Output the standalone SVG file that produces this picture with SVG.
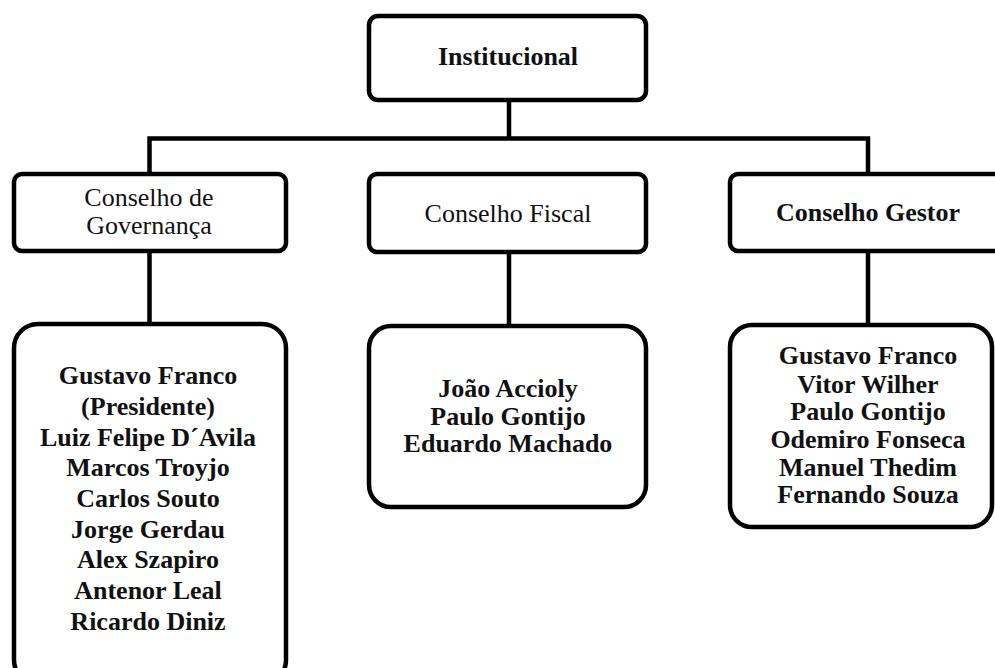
<svg xmlns="http://www.w3.org/2000/svg" width="995" height="668" viewBox="0 0 995 668">
<style>
.box{fill:#fff;stroke:#000;stroke-width:4.5}
.ln{fill:none;stroke:#000;stroke-width:4.5}
text{font-family:"Liberation Serif","Times New Roman",serif;font-size:26px;fill:#111;text-anchor:middle}
.b{font-weight:bold}
</style>
<rect width="995" height="668" fill="#fff"/>
<g id="connectors">
<path class="ln" d="M509 100V138.5M149.5 174V138.5H868V174M149.5 252V324M509 253V326M868 252V325"/>
</g>
<g id="institucional">
<rect class="box" x="369" y="16" width="277" height="84" rx="9"/>
<text class="b" x="508" y="65">Institucional</text>
</g>
<g id="governanca">
<rect class="box" x="14" y="174" width="272" height="77" rx="8"/>
<text x="149" y="206">Conselho de</text>
<text x="149" y="234">Governança</text>
</g>
<g id="fiscal">
<rect class="box" x="369" y="174" width="277" height="78" rx="8"/>
<text x="508" y="222">Conselho Fiscal</text>
</g>
<g id="gestor">
<rect class="box" x="730" y="174" width="280" height="77" rx="8"/>
<text class="b" x="868" y="221">Conselho Gestor</text>
</g>
<g id="governanca-membros">
<rect class="box" x="14" y="324" width="272" height="360" rx="24"/>
<text class="b" x="148" y="384">Gustavo Franco</text>
<text class="b" x="148" y="415">(Presidente)</text>
<text class="b" x="148" y="446">Luiz Felipe D´Avila</text>
<text class="b" x="148" y="476">Marcos Troyjo</text>
<text class="b" x="148" y="507">Carlos Souto</text>
<text class="b" x="148" y="538">Jorge Gerdau</text>
<text class="b" x="148" y="568">Alex Szapiro</text>
<text class="b" x="148" y="599">Antenor Leal</text>
<text class="b" x="148" y="630">Ricardo Diniz</text>
</g>
<g id="fiscal-membros">
<rect class="box" x="369" y="326" width="277" height="181" rx="22"/>
<text class="b" x="508" y="397">João Accioly</text>
<text class="b" x="508" y="425">Paulo Gontijo</text>
<text class="b" x="508" y="452">Eduardo Machado</text>
</g>
<g id="gestor-membros">
<rect class="box" x="730" y="325" width="262" height="202" rx="22"/>
<text class="b" x="868" y="364">Gustavo Franco</text>
<text class="b" x="868" y="393">Vitor Wilher</text>
<text class="b" x="868" y="420">Paulo Gontijo</text>
<text class="b" x="868" y="448">Odemiro Fonseca</text>
<text class="b" x="868" y="476">Manuel Thedim</text>
<text class="b" x="868" y="503">Fernando Souza</text>
</g>
</svg>
